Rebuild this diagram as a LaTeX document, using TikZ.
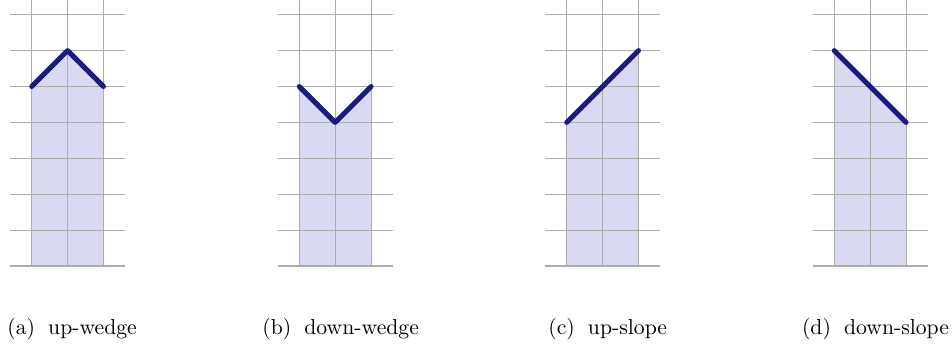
\documentclass[tikz,border=0pt]{standalone}
\usepackage{tikz}

\definecolor{wedgeblue}{RGB}{26,26,128}
\definecolor{wedgefill}{RGB}{217,217,240}
\tikzset{
  gridline/.style={gray!65, line width=0.5pt},
  profile/.style={wedgeblue, line width=2.3pt, line cap=round, line join=round},
  underfill/.style={fill=wedgefill, draw=none},
  subcap/.style={anchor=base west, inner sep=0pt, font=\normalsize}
}

\begin{document}
\begin{tikzpicture}[x=0.5813cm, y=0.5813cm]

  % -- Page frame --
  \useasboundingbox (0,-2.20) rectangle (26.52,7.41);

  % -- (a) up-wedge --
  \begin{scope}[shift={(0.883,0)}]
    \fill[underfill] (0,0) -- (0,5) -- (1,6) -- (2,5) -- (2,0) -- cycle;
    \foreach \y in {0,...,7} \draw[gridline] (-0.6,\y) -- (2.6,\y);
    \foreach \x in {0,1,2} \draw[gridline] (\x,0) -- (\x,7.41);
    \draw[profile] (0,5) -- (1,6) -- (2,5);
  \end{scope}
  \node[subcap] (capA) at (0.195,-1.90) {(a)\hspace{6pt}up-wedge};

  % -- (b) down-wedge --
  \begin{scope}[shift={(8.337,0)}]
    \fill[underfill] (0,0) -- (0,5) -- (1,4) -- (2,5) -- (2,0) -- cycle;
    \foreach \y in {0,...,7} \draw[gridline] (-0.6,\y) -- (2.6,\y);
    \foreach \x in {0,1,2} \draw[gridline] (\x,0) -- (\x,7.41);
    \draw[profile] (0,5) -- (1,4) -- (2,5);
  \end{scope}
  \node[subcap] (capB) at (7.298,-1.90) {(b)\hspace{6pt}down-wedge};

  % -- (c) up-slope --
  \begin{scope}[shift={(15.787,0)}]
    \fill[underfill] (0,0) -- (0,4) -- (2,6) -- (2,0) -- cycle;
    \foreach \y in {0,...,7} \draw[gridline] (-0.6,\y) -- (2.6,\y);
    \foreach \x in {0,1,2} \draw[gridline] (\x,0) -- (\x,7.41);
    \draw[profile] (0,4) -- (2,6);
  \end{scope}
  \node[subcap] (capC) at (15.265,-1.90) {(c)\hspace{6pt}up-slope};

  % -- (d) down-slope --
  \begin{scope}[shift={(23.240,0)}]
    \fill[underfill] (0,0) -- (0,6) -- (2,4) -- (2,0) -- cycle;
    \foreach \y in {0,...,7} \draw[gridline] (-0.6,\y) -- (2.6,\y);
    \foreach \x in {0,1,2} \draw[gridline] (\x,0) -- (\x,7.41);
    \draw[profile] (0,6) -- (2,4);
  \end{scope}
  \node[subcap] (capD) at (22.330,-1.90) {(d)\hspace{6pt}down-slope};

\end{tikzpicture}
\end{document}
